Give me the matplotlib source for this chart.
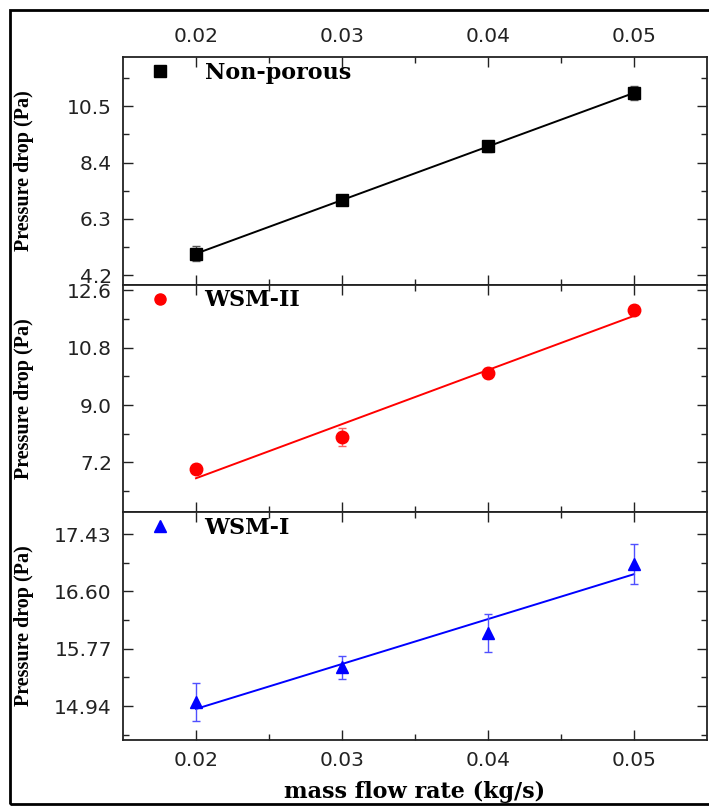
import numpy as np
import matplotlib
matplotlib.use("Agg")
import matplotlib.pyplot as plt
from matplotlib.lines import Line2D
from matplotlib.patches import Rectangle

# ---- data ----
flow = [0.02, 0.03, 0.04, 0.05]
nonporous = [5.0, 7.0, 9.0, 11.0]
nonporous_err = [0.28, 0.2, 0.2, 0.25]
wsm2 = [7.0, 8.0, 10.0, 12.0]
wsm2_err = [0.15, 0.28, 0.15, 0.15]
wsm1 = [15.0, 15.5, 16.0, 17.0]
wsm1_err = [0.28, 0.16, 0.28, 0.29]
names = ["Non-porous", "WSM-II", "WSM-I"]
xticks = [0.02, 0.03, 0.04, 0.05]
xtick_labels = ["0.02", "0.03", "0.04", "0.05"]
yticks_top = [4.2, 6.3, 8.4, 10.5]
yticks_mid = [7.2, 9.0, 10.8, 12.6]
yticks_bot = [14.94, 15.77, 16.60, 17.43]
ylabels_top = ["4.2", "6.3", "8.4", "10.5"]
ylabels_mid = ["7.2", "9.0", "10.8", "12.6"]
ylabels_bot = ["14.94", "15.77", "16.60", "17.43"]

W, H = 709, 806
fig = plt.figure(figsize=(W / 100, H / 100), dpi=100)

left = 123 / W
width = (707 - 123) / W
panels = [(57, 285), (285, 512), (512, 740)]
ylims = [(3.83, 12.34), (5.64, 12.77), (14.45, 17.75)]
series = [nonporous, wsm2, wsm1]
errs = [nonporous_err, wsm2_err, wsm1_err]
colors = ["black", "#ff0000", "#0000ff"]
ecolors = ["#555555", "#ff6060", "#5050ff"]
markers = ["s", "o", "^"]
yt = [yticks_top, yticks_mid, yticks_bot]
ytl = [ylabels_top, ylabels_mid, ylabels_bot]

tick_font = {"family": "DejaVu Sans", "size": 14.5}
x = np.array(flow)

for i, (t, b) in enumerate(panels):
    ax = fig.add_axes([left, 1 - b / H, width, (b - t) / H])
    y = np.array(series[i])
    coef = np.polyfit(x, y, 1)
    xf = np.array([flow[0], flow[-1]])
    ax.plot(xf, np.polyval(coef, xf), color=colors[i], lw=1.4, zorder=2)
    ax.errorbar(x, y, yerr=errs[i], fmt=markers[i], color=colors[i],
                ecolor=ecolors[i], elinewidth=1.0, capsize=3, capthick=1.0,
                markersize=9, zorder=3)
    ax.set_xticks(xticks)
    ax.set_xticks([0.025, 0.035, 0.045], minor=True)
    yv = yt[i]
    step = (yv[1] - yv[0]) / 2
    ax.set_yticks(yv)
    ax.set_yticklabels(ytl[i], fontdict=tick_font)
    ax.set_yticks([v + step for v in yv] + [yv[0] - step], minor=True)
    ax.set_xlim(0.015, 0.055)
    ax.set_ylim(*ylims[i])
    ax.tick_params(which="both", direction="in", top=True, right=True,
                   bottom=True, left=True, width=1.0, colors="#222222")
    ax.tick_params(which="major", length=7)
    ax.tick_params(which="minor", length=4.5)
    ax.tick_params(axis="y", pad=8)
    if i == 0:
        ax.tick_params(axis="x", labeltop=True, labelbottom=False, pad=8)
        ax.set_xticklabels(xtick_labels, fontdict=tick_font)
    elif i == 2:
        ax.tick_params(axis="x", labeltop=False, labelbottom=True, pad=8)
        ax.set_xticklabels(xtick_labels, fontdict=tick_font)
    else:
        ax.tick_params(axis="x", labeltop=False, labelbottom=False)
    for s in ax.spines.values():
        s.set_linewidth(1.3)
        s.set_color("#222222")
    ax.set_ylabel("Pressure drop (Pa)", fontfamily="Liberation Serif",
                  fontweight="bold", fontsize=14.5)
    ax.yaxis.set_label_coords((34 - 123) / (707 - 123), 0.5)
    h = Line2D([], [], marker=markers[i], ls="none", color=colors[i], markersize=8)
    ax.legend([h], [names[i]], loc="center left",
              bbox_to_anchor=((149 - 123) / (707 - 123), 1 - 15.5 / (b - t)),
              frameon=False, handlelength=1.0, handletextpad=1.5,
              borderpad=0, borderaxespad=0,
              prop={"family": "DejaVu Serif", "weight": "bold", "size": 16})

fig.text((123 + 707) / 2 / W, 1 - 792 / H, "mass flow rate (kg/s)",
         ha="center", va="center", fontfamily="DejaVu Serif",
         fontweight="bold", fontsize=16)

fig.patches.append(Rectangle((10 / W, 1 - 804 / H), 720 / W, 794 / H,
                             transform=fig.transFigure, fill=False,
                             lw=2, edgecolor="black"))

fig.savefig("out.png", dpi=100)
